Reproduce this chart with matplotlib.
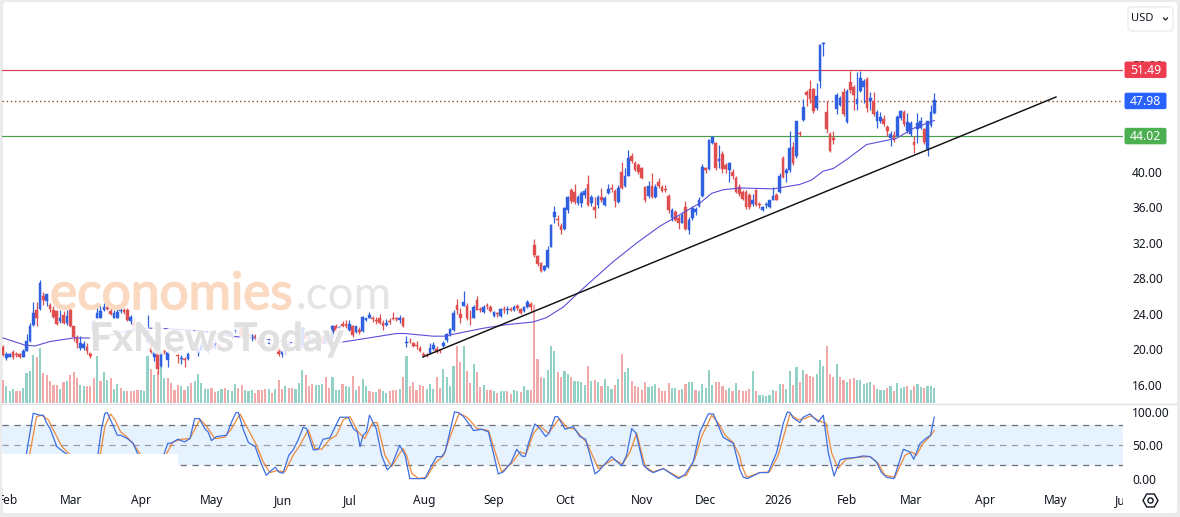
import numpy as np
import matplotlib
matplotlib.use("Agg")
import matplotlib.pyplot as plt
import matplotlib.patheffects as pe
from matplotlib.patches import FancyBboxPatch, Rectangle, RegularPolygon, Circle
from matplotlib.transforms import IdentityTransform

plt.rcParams['font.family'] = ['Noto Sans', 'DejaVu Sans']

opens = [
    20.3,19.0,19.2,19.7,19.5,19.5,19.2,19.8,21.0,22.8, 24.5,24.6,26.0,25.5,25.0,24.5,24.3,23.2,23.9,23.0,
    24.5,22.6,21.4,20.2,20.2,20.3,19.6,22.0,23.6,23.6, 24.5,24.8,24.3,23.6,23.6,24.3,24.5,24.4,23.2,23.1,
    22.4,22.1,22.0,20.9,21.3,19.1,20.1,18.1,19.9,18.8, 20.4,20.1,19.4,18.9,18.9,18.9,20.9,20.5,19.6,20.1,
    20.4,19.7,20.5,20.2,20.5,20.0,20.0,21.0,21.4,22.1, 22.5,22.5,21.6,21.7,21.2,21.5,21.1,20.7,20.3,20.6,
    20.5,20.4,20.2,19.5,19.7,20.5,20.1,20.3,20.3,20.5, 21.9,21.3,21.3,21.2,21.0,21.4,21.0,21.1,21.4,22.7,
    22.4,22.9,22.9,22.2,22.6,22.0,22.2,22.1,23.3,23.6, 23.5,23.3,23.6,23.0,22.8,23.2,23.5,23.5,23.3,23.6,
    20.7,20.9,20.7,20.5,20.2,19.5,19.4,19.6,20.1,20.0, 19.9,20.4,21.1,21.7,22.2,25.0,24.0,24.9,24.9,23.6,
    23.6,25.6,24.6,24.2,25.0,24.8,23.8,24.1,23.8,24.6, 24.5,24.6,24.4,24.9,24.6,24.3,24.8,25.1,31.8,30.5,
    29.7,29.0,29.3,31.6,34.9,34.7,33.9,33.6,35.7,38.0, 37.8,36.5,36.5,37.4,38.6,36.5,36.1,36.3,37.2,36.3,
    37.6,38.2,37.9,36.6,40.0,38.4,39.6,41.8,41.0,40.8, 40.4,38.3,37.3,38.4,37.2,38.9,38.3,38.1,37.3,34.8,
    35.5,34.8,34.3,36.1,33.5,34.8,35.5,36.2,37.3,40.4, 40.3,43.3,43.3,41.2,42.0,40.8,40.2,40.0,39.3,38.3,
    37.8,37.8,37.4,36.4,38.0,36.4,35.7,36.3,36.0,36.9, 37.4,37.8,41.6,39.9,40.2,42.8,41.8,44.4,45.9,49.0,
    49.3,49.3,47.2,50.3,54.4,46.8,44.3,43.8,47.1,47.6, 49.0,45.6,50.1,49.6,47.7,49.1,49.6,50.5,48.0,48.0,
    45.7,45.7,46.0,45.1,43.8,44.2,44.1,46.1,46.8,44.6, 44.3,43.4,44.8,45.0,44.8,42.6,45.3,46.7]
closes = [
    19.4,19.5,19.5,19.2,19.4,19.1,19.8,21.0,22.6,24.1, 23.6,27.5,25.6,26.2,24.6,23.7,22.9,23.5,23.0,23.8,
    22.7,21.4,20.7,20.7,20.6,19.8,19.3,23.2,24.1,24.3, 24.8,24.6,24.0,24.1,24.2,24.5,24.2,23.3,23.7,22.6,
    22.1,22.3,21.6,21.8,19.7,19.7,17.8,19.7,19.7,19.7, 20.1,19.7,19.3,19.0,18.8,19.5,20.6,20.7,20.1,20.5,
    20.3,20.1,20.2,20.7,20.3,20.1,20.1,20.5,21.7,22.2, 22.6,21.5,21.8,21.5,21.6,21.4,20.6,20.9,20.0,20.7,
    20.4,20.0,19.5,19.8,20.2,20.6,20.0,20.3,20.5,22.4, 21.3,21.4,21.2,21.3,21.2,20.9,21.5,21.0,22.6,22.1,
    22.5,22.7,22.6,22.9,21.6,22.6,22.0,23.7,23.5,23.9, 23.4,23.2,23.0,22.7,23.0,23.1,23.4,23.4,23.5,22.6,
    20.8,20.8,20.4,20.4,19.8,19.4,19.3,20.2,20.5,19.7, 19.8,20.7,21.8,22.3,24.1,24.5,23.5,25.4,23.5,23.5,
    24.8,24.5,24.4,24.8,24.9,24.3,24.2,24.0,24.6,24.5, 24.6,24.5,24.8,24.7,24.1,24.8,25.3,24.8,30.6,29.6,
    28.8,29.4,31.2,34.0,35.5,34.6,33.5,35.9,37.2,36.7, 36.6,37.2,37.6,37.9,36.3,37.2,35.7,37.2,36.8,37.1,
    38.1,38.1,36.7,38.2,38.2,39.5,41.6,41.2,40.2,40.0, 39.3,36.9,38.4,37.2,38.3,38.4,37.9,38.0,35.7,35.7,
    34.6,34.3,35.2,33.6,34.6,35.9,35.8,36.9,40.6,40.2, 43.6,43.9,40.4,41.5,40.3,40.3,41.0,39.5,37.8,37.5,
    37.0,36.0,36.1,36.9,36.3,36.3,36.1,36.4,36.8,37.3, 36.9,39.5,39.4,40.2,42.7,41.0,45.7,44.3,47.3,48.7,
    48.2,46.9,48.6,54.3,54.5,44.9,42.4,43.6,48.7,48.3, 46.5,49.1,49.2,48.7,48.2,50.6,50.2,47.2,48.3,46.5,
    46.8,46.2,45.4,44.6,44.3,43.6,46.2,46.9,45.4,45.6, 45.5,43.0,45.5,45.7,43.4,45.7,46.8,48.1]
highs = [
    20.5,19.7,19.6,19.9,19.7,19.6,20.1,21.8,23.0,25.3, 25.4,27.8,26.5,26.3,25.2,24.9,24.4,24.4,24.3,24.4,
    24.7,22.7,21.6,21.5,21.0,20.7,19.8,23.4,24.9,25.0, 25.2,25.0,24.7,24.4,24.6,24.8,24.7,24.7,23.9,23.4,
    22.6,22.5,22.2,23.9,21.5,20.2,20.4,19.8,20.0,19.9, 20.6,20.2,19.7,19.4,19.2,19.7,21.3,20.9,20.3,20.9,
    20.6,20.2,20.9,21.2,20.7,20.2,20.3,21.2,21.9,22.8, 22.8,22.6,22.0,21.9,21.8,21.8,21.2,21.1,20.5,20.9,
    20.7,20.6,20.3,20.0,20.3,20.8,20.3,20.5,20.7,22.6, 22.2,21.6,21.5,21.5,21.4,21.6,21.8,21.4,22.8,22.9,
    22.7,23.2,23.3,23.3,22.8,22.7,22.5,23.8,23.6,24.2, 23.8,23.7,24.0,23.3,23.4,23.6,24.2,23.7,23.9,23.7,
    21.5,21.3,20.9,21.0,20.4,19.7,19.6,20.7,20.8,20.4, 20.1,21.0,21.9,22.4,24.4,25.7,24.7,26.6,25.2,24.5,
    25.0,26.0,24.8,25.0,25.2,25.0,24.3,24.2,24.7,24.9, 24.9,24.8,25.0,25.1,24.7,24.9,25.6,25.3,32.5,30.7,
    29.9,29.5,31.7,34.1,36.2,35.1,34.2,36.0,37.3,38.2, 38.7,37.4,37.9,38.2,39.7,37.4,37.2,37.4,38.2,37.3,
    38.6,38.6,38.1,38.5,41.1,40.4,42.5,42.1,41.2,41.0, 40.6,38.4,39.0,39.9,38.6,39.3,38.5,38.5,37.5,35.9,
    35.7,35.2,35.5,36.7,34.9,36.2,36.0,37.2,40.9,40.6, 43.7,44.1,43.4,43.0,42.4,41.0,41.1,40.3,39.6,38.6,
    38.0,38.0,37.6,37.5,38.1,36.6,36.2,36.6,36.9,38.3, 37.6,39.9,41.8,40.4,44.6,43.4,45.8,44.6,48.2,49.2,
    50.4,49.5,50.0,54.4,54.7,48.0,44.5,44.6,48.9,48.6, 49.5,49.3,51.4,49.8,51.3,51.4,50.5,50.7,49.0,49.0,
    47.0,46.8,46.4,45.3,44.6,44.6,46.4,47.0,47.0,46.6, 45.7,44.0,46.6,46.2,45.0,45.8,47.5,48.9]
lows = [
    19.3,18.8,19.1,18.9,19.2,19.0,19.2,19.8,20.9,22.7, 22.6,24.5,25.0,24.9,24.2,23.5,22.8,23.0,22.9,22.8,
    22.5,21.0,20.2,20.0,20.0,19.5,19.0,21.8,23.5,23.5, 24.3,24.4,23.9,23.5,23.5,24.1,24.0,23.2,22.9,22.0,
    21.9,21.9,21.4,20.7,19.6,18.7,17.2,18.0,19.5,18.0, 19.9,19.6,18.5,18.4,18.0,18.8,20.3,20.3,19.3,20.0,
    20.1,19.6,20.0,20.1,20.1,19.8,19.8,20.4,21.2,21.9, 22.4,21.4,21.5,21.3,21.0,21.1,20.5,20.5,19.8,20.4,
    20.2,19.8,19.3,19.2,19.5,20.3,19.8,20.1,20.1,20.2, 21.2,21.1,21.0,21.0,20.8,20.7,20.8,20.8,21.0,21.9,
    22.2,22.4,22.4,22.1,21.4,21.9,21.8,22.0,23.2,23.5, 23.1,22.9,22.9,22.2,22.7,22.9,23.3,23.2,23.0,22.5,
    20.3,20.7,20.3,20.1,19.7,19.1,19.1,19.5,20.0,19.6, 19.6,20.3,20.8,21.5,22.1,24.0,23.0,24.9,23.3,22.8,
    23.5,24.4,24.2,24.1,24.6,24.2,23.7,23.7,23.7,24.1, 24.0,24.3,24.3,24.4,24.0,24.2,24.7,24.3,30.4,29.4,
    28.7,28.9,29.2,31.5,34.3,33.9,33.0,33.5,35.4,36.5, 36.4,36.3,36.0,37.1,36.2,36.2,34.8,35.9,36.6,36.2,
    37.5,37.8,36.1,36.5,38.1,38.3,39.5,41.0,40.1,39.8, 39.2,36.6,37.1,37.1,37.1,38.2,37.7,37.7,35.4,34.5,
    34.5,33.6,34.2,33.5,33.0,34.6,35.1,36.1,37.2,39.9, 40.2,43.2,40.2,40.5,39.9,39.9,38.9,39.2,37.6,37.3,
    36.8,35.8,35.8,36.2,36.2,35.9,35.6,35.9,35.9,36.8, 36.8,37.6,39.3,38.9,40.0,40.8,41.6,44.1,45.8,47.4,
    47.8,46.6,47.0,49.5,53.1,44.4,42.3,43.1,46.5,47.4, 46.3,45.5,48.9,47.0,47.0,49.0,47.8,46.8,47.0,46.3,
    45.0,45.5,45.2,44.0,42.9,43.4,44.0,45.9,45.2,44.4, 44.1,42.1,43.3,44.8,43.2,41.8,45.1,46.5]

volume = [
    23,17,12,14,12,12,15,30,32,48, 46,55,30,28,22,18,18,14,21,22, 28,31,25,18,17,17,17,25,47,22,
    31,23,25,14,19,15,12,12,12,12, 13,13,12,47,34,28,32,43,25,25, 20,13,18,17,13,17,20,22,29,20,
    14,14,15,11,12,14,15,13,
    12,19,15,18,13,12,13,10,13,13, 14,14,10,14,23,14,17,15,15,14, 20,33,28,17,19,18,18,19,26,15,
    26,13,13,19,17,16,27,13,17,24, 17,12,11,11,14,12,10,12,13,13, 14,
    26,47,17,21,13,18,17,14,19,14, 26,15,34,26,17,37,57,41,57,32, 20,39,31,16,18,13,13,12,10,12,
    12,12,9,13,12,11,17,13,13,98, 44,26,25,33,57,52,31,26,32,29, 26,22,22,21,18,37,22,23,21,17,
    24,17,14,18,24,49,31,35,22,17, 16,13,21,16,17,19,15,12,12,20, 15,15,13,14,19,21,21,13,12,19,
    15,33,18,21,21,17,13,15,12,20, 13,
    12,12,14,32,12,8,8,7,8,13, 12,19,19,14,32,18,36,21,33,29, 27,26,29,43,37,57,29,26,39,26,
    23,21,24,25,23,23,19,20,21,18, 14,13,13,15,17,12,20,15,16,17, 13,17,19,16,15,17,17,15]
# g / r for each volume bar, as coloured in the chart
volume_side = (
    "rgggrrgggg" "rgrrrrrgrg" "rrrggrrrgr" "ggrggrgrrr" "rgggrgrggr" "rrrgrgrggg" "ggrrggrg"
    "ggrrgggrrr" "rgrgrrgrrg" "ggrrrgggrr" "gggrggrgrg" "grrgrggrrr" "g"
    "rgrrrrrggg" "rrggggrrgr" "rgrrgrrgrg" "grrggrggrr" "rrggggrrgg" "rggggrgrgr" "gggrgrggrr"
    "rrrgggrrrr" "ggrgrggrgg" "gggrrrrgrg" "r"
    "rrrgrggggg" "rgrggrgrgr" "rrgggrrrgr" "rgrrgggggr" "gggrgrgggr" "grggrggg")

price_ticks = [16, 20, 24, 28, 32, 36, 40, 44, 48, 52]
level_red = 51.49
level_last = 47.98
level_green = 44.02

ma_x = [0, 6.5, 9.5, 14, 21, 26, 33, 40, 46, 55, 60.5, 67.5, 77.4, 87.3, 91.3, 100.2, 107.1, 117, 119.5,
        128, 131.3, 135, 142.9, 149.8, 157.7, 161.7, 166.7, 172.6, 181.5, 188.5, 195.4, 202.3, 207.3,
        210.8, 214.2, 219.2, 229.1, 237, 240.5, 244, 247, 250.9, 256.9, 260.8, 265.8, 270.7, 277]
ma_val = [21.3, 20.5, 20.4, 20.9, 21.3, 21.3, 21.7, 22.4, 22.4, 22.2, 22.0, 21.5, 21.2, 20.7, 20.7, 20.8, 21.2, 21.8, 21.8,
          21.5, 21.5, 21.8, 22.4, 22.8, 23.1, 23.6, 24.8, 26.9, 29.9, 32.0, 33.9, 35.4, 36.5,
          37.6, 38.0, 38.2, 38.1, 38.6, 39.1, 40.1, 40.4, 41.4, 43.1, 43.4, 43.8, 44.9, 45.8]

trend_x = [124.9, 313.2]
trend_val = [19.16, 48.45]

k_x = [0,4,6,7,9,11,12,13,14,16,18,19.5,21,24,26,28.3,29.3,30.3,31,32,34,35,37,38.7,40,42,44,46,48,49,50,52,54,55.6,
       57,58.4,60,61,62,63.5,65,66.5,68,69.3,70,71.5,73,75,77,78.3,80,81,82,83.3,85,86.3,87.8,89.3,90.3,92.3,93.8,
       95.2,97.2,100.2,102.7,104.2,105.4,106.2,107.1,108.1,109,111,112.6,114.3,115.6,118,
       119.6,121,125.5,127.5,129,130.5,131.5,134.3,135.4,137,140,142.4,144.4,147.3,148.8,151.1,152.8,154.3,155.3,156.3,
       158.2,159.7,161.4,162.4,164.2,165,167.2,169.6,171.6,173.3,176.1,177.3,181,184,185.5,187,188.3,190.5,192,193.4,
       196.4,197.9,200.9,202.8,205.3,207.3,209.8,211.3,214.2,217.2,219.2,220.2,221.4,225.1,227.6,230.1,232.1,233.3,234.1,
       235,237,238,240,242.5,244,245.5,247.2,249,250.4,254,255.9,257.9,259.8,261.3,262.8,265,267.8,269.7,270.9,272.7,274.2,275.9,277]
k_val = [15,12,20,38,98,95,95,83,75,48,40,35,30,15,12,38,75,98,99,88,65,65,60,53,38,15,12,14,38,53,53,59,55,60,
         90,90,75,70,57,63,64,65,85,99,99,73,54,48,20,5,13,17,10,8,35,43,58,77,75,43,44,
         59,61,92,92,75,70,48,65,70,95,75,35,13,20,50,
         35,0,0,20,33,33,40,100,99,93,72,74,70,7,10,24,44,34,33,53,
         82,75,63,68,93,93,74,78,63,59,7,12,33,19,35,75,68,20,13,9,
         15,10,0,6,25,70,97,97,62,53,13,2,0,9,9,39,83,100,99,
         91,84,92,97,85,95,38,4,28,30,32,34,33,25,9,2,0,44,40,29,52,59,65,92]
d_x = [0,4,7,8,10,11.5,13.5,15.5,17.5,19.5,22,26,29,30.3,32,33.3,35,36.3,38.3,40.7,44,47,48.7,50.6,53,55.6,58.6,60.6,
       63,66,68,70.5,73,75.4,77.4,79.4,81.4,83.8,86.3,88.3,90.8,92.8,94.8,97.2,99.2,101.2,103.2,105.6,107.6,110,111.3,113.6,115.6,118,
       119,120,121.6,123.6,126,128.5,131,133,135.7,138,141,144.4,146.4,148.3,151.3,153.8,155.6,157.8,159.7,162.2,165.5,167.7,170.1,
       173.6,177.1,181.5,184.3,186.5,188.5,191,193.4,196.4,200.9,203.3,205.8,207.8,210.8,212.8,214.8,217.2,219.2,
       219.7,221.2,225.1,228,230.6,234.1,236.5,238.5,240.2,243,244.8,246.5,248.4,250.7,254.4,257.9,260.3,262.3,265.3,268.3,270.2,271.7,273.7,275.7,277]
d_val = [20,14,25,38,93,95,88,68,48,38,25,14,38,78,97,88,70,65,55,38,15,20,38,55,59,60,89,78,
         60,62,75,97,73,50,25,9,12,10,35,50,73,45,44,59,65,88,93,70,60,84,84,35,18,38,
         45,35,8,0,2,23,34,63,98,92,75,72,40,10,23,40,37,68,79,68,90,77,74,
         54,15,29,22,40,68,18,10,15,2,5,30,63,95,83,65,54,33,
         20,2,9,10,35,97,88,90,94,86,83,38,15,29,32,33,23,5,2,35,40,35,53,63,72]
stoch_ticks = [0, 50, 100]

month_x = [1.5, 20.2, 41, 62.2, 83.3, 103.2, 125.2, 146, 167.2, 190, 209, 230.5, 251, 270, 292, 313, 333.5]
month_names = ['Feb', 'Mar', 'Apr', 'May', 'Jun', 'Jul', 'Aug', 'Sep', 'Oct', 'Nov', 'Dec', '2026',
               'Feb', 'Mar', 'Apr', 'May', 'Jun']

W, H = 1180, 517
RIGHT = 1123
BAR0, STEP = 3.0, 3.362
UP, DOWN = '#2f60e0', '#df4f50'
TXT = '#131722'


def box(left, top, right, bottom):
    return [left / W, 1 - bottom / H, (right - left) / W, (bottom - top) / H]


fig = plt.figure(figsize=(W / 100, H / 100), dpi=100)
fig.patch.set_facecolor('#ebebeb')
fig.add_artist(FancyBboxPatch((3, 4), W - 6, H - 6, boxstyle='round,pad=0,rounding_size=3',
                              fc='white', ec='none', transform=IdentityTransform(), zorder=-1))

xlim = ((2 - BAR0) / STEP, (RIGHT - BAR0) / STEP)

# price pane, volume shares it
ax = fig.add_axes(box(2, 3, RIGHT, 403))
ax_vol = fig.add_axes(box(2, 3, RIGHT, 403), sharex=ax)
ax_vol.set_ylim(0, 400)
ax_vol.axis('off')
ax_vol.patch.set_alpha(0)
ax.set_zorder(1)
ax_vol.set_zorder(0)
ax.patch.set_alpha(0)

bars = np.arange(len(opens))
o = np.array(opens)
c = np.array(closes)
cols = [UP if b >= a else DOWN for a, b in zip(opens, closes)]
ax.vlines(bars, lows, highs, colors=cols, lw=0.9, zorder=3)
ax.bar(bars, np.abs(c - o), bottom=np.minimum(o, c), width=0.8, color=cols, edgecolor=cols, lw=0.3, zorder=4)

vol_cols = ['#93d1c7' if s == 'g' else '#f1a9a9' for s in volume_side]
ax_vol.bar(bars, volume, width=0.64, color=vol_cols)

ax.axhline(level_red, color='#d9404f', lw=0.85, zorder=2)
ax.axhline(level_green, color='#4a9f4e', lw=0.85, zorder=2)
ax.axhline(level_last, color='#8a4b20', lw=1, ls=(0, (1, 2)), zorder=2)
ax.plot(ma_x, ma_val, color='#5a4fd8', lw=0.8, zorder=5)
ax.plot(trend_x, trend_val, color='#111111', lw=1.05, zorder=6)

ax.set_xlim(xlim)
ax.set_ylim(16 - 18 / 8.875, 16 + 382 / 8.875)
ax.yaxis.tick_right()
ax.set_yticks(price_ticks)
ax.set_yticklabels([f'{v:.2f}' for v in price_ticks], fontsize=8.6, color=TXT)
ax.tick_params(axis='y', length=0, pad=6.5)
ax.tick_params(axis='x', bottom=False, labelbottom=False)
for s in ax.spines.values():
    s.set_visible(False)

# stochastic pane
ax2 = fig.add_axes(box(2, 404, RIGHT, 488))
ax2.axhspan(20, 80, color='#e6f2fd', lw=0, zorder=0)
for lvl, col in [(80, '#6b6f7a'), (50, '#9a9da6'), (20, '#6b6f7a')]:
    ax2.axhline(lvl, color=col, lw=0.9, ls=(0, (5, 4.5)), zorder=1)
ax2.plot(d_x, d_val, color='#ef8a3c', lw=0.9, zorder=2)
ax2.plot(k_x, k_val, color='#3f6fe0', lw=0.9, zorder=3)
ax2.set_xlim(xlim)
ax2.set_ylim((478.6 - 488) / 0.667, (478.6 - 404) / 0.667)
# the watermark patch hides this corner of the pane
ax2.add_patch(Rectangle((xlim[0], -15), (178 - 2) / STEP, 52, fc='white', ec='none', zorder=6))
ax2.yaxis.tick_right()
ax2.set_yticks(stoch_ticks)
ax2.set_yticklabels([f'{v:.2f}' for v in stoch_ticks], fontsize=8.6, color=TXT)
ax2.tick_params(axis='y', length=0, pad=6.5)
ax2.tick_params(axis='x', bottom=False, labelbottom=False)
for s in ax2.spines.values():
    s.set_visible(False)

# time axis
ax3 = fig.add_axes(box(2, 488, RIGHT, 513))
ax3.set_xlim(xlim)
ax3.set_ylim(0, 1)
ax3.axis('off')
for mx, name in zip(month_x, month_names):
    ax3.text(mx, 0.5, name, ha='center', va='center', fontsize=8.6, color=TXT, clip_on=True,
             fontweight='bold' if name == '2026' else 'normal')

fig.add_artist(plt.Line2D([2 / W, 1177 / W], [1 - 403.5 / H] * 2, color='#e0e3eb', lw=1, zorder=4))

# price tags on the right
fig.canvas.draw()
for val, col in [(level_red, '#ee3d4e'), (level_last, '#2962ff'), (level_green, '#4caf50')]:
    ypx = ax.transData.transform((0, val))[1]
    fig.add_artist(FancyBboxPatch((1124.5, ypx - 8), 42, 16.5, boxstyle='round,pad=0,rounding_size=2',
                                  fc=col, ec='none', transform=IdentityTransform(), zorder=5))
    fig.text(1145.5 / W, ypx / H, f'{val:.2f}', color='white', fontsize=8.8, fontweight='bold',
             ha='center', va='center', zorder=6)

# currency button
fig.add_artist(FancyBboxPatch((1128, H - 31), 45, 24, boxstyle='round,pad=0,rounding_size=3',
                              fc='white', ec='#e6e8ee', lw=0.8, transform=IdentityTransform(), zorder=5))
fig.text(1131 / W, 1 - 18.5 / H, 'USD', fontsize=8, color=TXT, va='center', ha='left', zorder=6)
fig.add_artist(plt.Line2D([1163.5, 1165.5, 1167.5], [H - 18, H - 20, H - 18], color=TXT, lw=0.9,
                          transform=IdentityTransform(), zorder=6))

# settings icon
fig.add_artist(RegularPolygon((1150.5, H - 500.5), 6, radius=7.5, orientation=np.pi / 6, fc='none', ec=TXT, lw=1,
                              transform=IdentityTransform(), zorder=6))
fig.add_artist(Circle((1150.5, H - 500.5), 2.6, fc='none', ec=TXT, lw=1, transform=IdentityTransform(), zorder=6))

# watermarks
fig.text(50 / W, 1 - 309 / H, 'economies', fontsize=37, family='Lato', color='#fbd8c0', ha='left', va='baseline', zorder=3,
         path_effects=[pe.withStroke(linewidth=1.2, foreground='#fbd8c0')])
fig.text(296 / W, 1 - 309 / H, '.com', fontsize=33, family='Lato', color='#e4e4e4', ha='left', va='baseline', zorder=3)
fig.text(90 / W, 1 - 351 / H, 'FxNewsToday', fontsize=28.5, family='Lato', fontweight='bold', color='#e0e0e0', ha='left',
         va='baseline', zorder=3, path_effects=[pe.withStroke(linewidth=5, foreground='white', alpha=0.85),
                                                pe.Normal()])

fig.savefig('out.png', dpi=100, facecolor=fig.get_facecolor())
